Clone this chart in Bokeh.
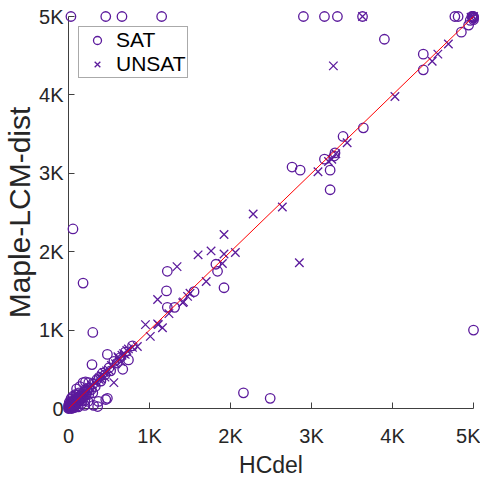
from bokeh.plotting import figure
from bokeh.models import Range1d, FixedTicker, Legend, LegendItem
from bokeh.embed import file_html
from bokeh.resources import INLINE

PURPLE = "#5B1A9C"

# SAT instances (circles): HCdel time vs Maple-LCM-dist time
sat_x = [30, 460, 660, 1150, 2900, 3160, 3320, 3630, 4770, 4810, 4980, 5000, 5000,
         5000, 4990, 5000,
         3900, 4380, 4380, 4850, 4940, 4960, 5000,
         2760, 2860, 3230, 3230, 3280, 3290, 3160, 3390, 3640,
         1820, 1840, 1920, 1220, 1210, 1220, 1310, 1550,
         790, 740, 670, 300, 290, 480, 210, 480, 370, 310, 90, 55, 180, 2160, 2490, 250, 460, 360,
         20, 40, 60, 10, 80, 100, 120, 150, 130, 180, 200, 220, 250, 280, 300, 330, 350, 380,
         400, 420, 450, 500, 520, 560, 600, 640, 700, 30, 70, 110, 160, 200, 140, 100, 60, 250,
         300, 180, 90, 50, 5, 15, 40, 120, 200, 240, 150,
         0, 10, 5, 25, 35, 45, 65, 75, 95, 110, 130, 160, 170, 190, 210, 230, 0, 40, 20, 70,
         55, 85, 115, 140, 100, 170]
sat_y = [5000, 5000, 5000, 5000, 5000, 5000, 5000, 5000, 5000, 5000, 5000, 5000, 4990,
         1000, 5000, 4980,
         4710, 4520, 4320, 4800, 4890, 4950, 4960,
         3080, 3040, 3040, 2790, 3220, 3260, 3180, 3470, 3580,
         1840, 1750, 1540, 1750, 1500, 1290, 1290, 1490,
         800, 620, 500, 970, 560, 690, 340, 130, 90, 40, 180, 2290, 1600, 200, 130, 330, 115, 25,
         30, 20, 50, 80, 40, 120, 90, 160, 200, 140, 230, 180, 260, 240, 310, 280, 370, 400,
         350, 450, 430, 520, 480, 600, 580, 650, 720, 120, 10, 30, 60, 100, 280, 250, 160, 180,
         200, 330, 90, 100, 10, 60, 140, 20, 40, 90, 110,
         0, 5, 25, 10, 35, 60, 70, 90, 60, 140, 110, 180, 150, 210, 170, 230, 40, 0, 70, 20,
         55, 115, 85, 140, 170, 100]

# UNSAT instances (crosses)
unsat_x = [3630, 3270, 4490, 4560, 4690, 4030, 4970, 5000,
           2060, 2280, 2640, 2850, 3080, 3250, 3210, 3440, 3300,
           1600, 1760, 1920, 1920, 1900, 1700, 1340, 1100, 1470, 1420, 1410, 1240, 950, 1110,
           1160, 1010, 850, 610, 560, 790, 1500, 1100,
           20, 50, 80, 110, 140, 170, 200, 230, 260, 290, 320, 350, 380, 410, 440, 470, 500,
           530, 580, 620, 660, 700, 740, 30, 60, 90, 120, 160, 400, 450, 650, 680, 720,
           10, 30, 45, 65, 75, 95, 125, 150, 180, 210, 240, 270, 15, 35]
unsat_y = [5000, 4370, 4430, 4520, 4650, 3980, 4990, 5000,
           1990, 2480, 2570, 1860, 3020, 3180, 3150, 3390, 3250,
           1960, 2010, 1970, 2220, 1850, 1620, 1810, 1390, 1430, 1360, 1350, 1210, 1070, 1070,
           1030, 920, 790, 660, 330, 780, 1470, 1080,
           20, 60, 70, 100, 150, 190, 200, 250, 270, 300, 330, 340, 370, 420, 460, 480, 490,
           550, 570, 640, 680, 690, 760, 50, 30, 130, 160, 120, 380, 400, 600, 700, 740,
           10, 30, 40, 60, 85, 100, 130, 140, 170, 220, 230, 260, 35, 15]

diag = [0, 5000]
tick_vals = [0, 1000, 2000, 3000, 4000, 5000]
tick_labels = ["0", "1K", "2K", "3K", "4K", "5K"]

FONT = "Liberation Sans"
TXT = "#262626"

p = figure(width=480, height=480, output_backend="svg", toolbar_location=None,
           x_range=Range1d(0, 5000), y_range=Range1d(0, 5000),
           min_border_left=68, min_border_right=7, min_border_top=16, min_border_bottom=71)
p.outline_line_color = None
p.grid.visible = False

r_sat = p.scatter(sat_x, sat_y, marker="circle", size=9.5, fill_color=None,
                  line_color=PURPLE, line_width=1.3, level="overlay")
r_unsat = p.scatter(unsat_x, unsat_y, marker="x", size=12,
                    line_color=PURPLE, line_width=1.3, level="overlay")
p.line(diag, diag, line_color="red", line_width=1, level="overlay")

for ax in (p.xaxis[0], p.yaxis[0]):
    ax.ticker = FixedTicker(ticks=tick_vals)
    ax.major_label_overrides = {v: l for v, l in zip(tick_vals, tick_labels)}
    ax.major_tick_in = 6
    ax.major_tick_out = 0
    ax.minor_tick_line_color = None
    ax.axis_line_color = "#404040"
    ax.major_tick_line_color = "#404040"
    ax.major_label_text_font = FONT
    ax.major_label_text_font_size = "20px"
    ax.major_label_text_color = TXT
    ax.axis_label_text_font = FONT
    ax.axis_label_text_font_style = "normal"
    ax.axis_label_text_color = TXT

p.xaxis.axis_label = "HCdel"
p.yaxis.axis_label = "Maple-LCM-dist"
p.xaxis.axis_label_text_font_size = "23px"
p.yaxis.axis_label_text_font_size = "30px"
p.xaxis.major_label_standoff = 16
p.yaxis.major_label_standoff = 5
p.xaxis.axis_label_standoff = 2
p.yaxis.axis_label_standoff = 0

legend = Legend(items=[LegendItem(label="SAT", renderers=[r_sat]),
                       LegendItem(label="UNSAT", renderers=[r_unsat])],
                location="top_left")
legend.label_text_font = FONT
legend.label_text_font_size = "21px"
legend.label_text_color = "black"
legend.border_line_color = "#555555"
legend.padding = 1
legend.spacing = 0
legend.margin = 10
legend.glyph_width = 34
legend.label_standoff = 2
legend.label_height = 20
p.add_layout(legend)

open("out.html", "w").write(file_html(p, INLINE))
